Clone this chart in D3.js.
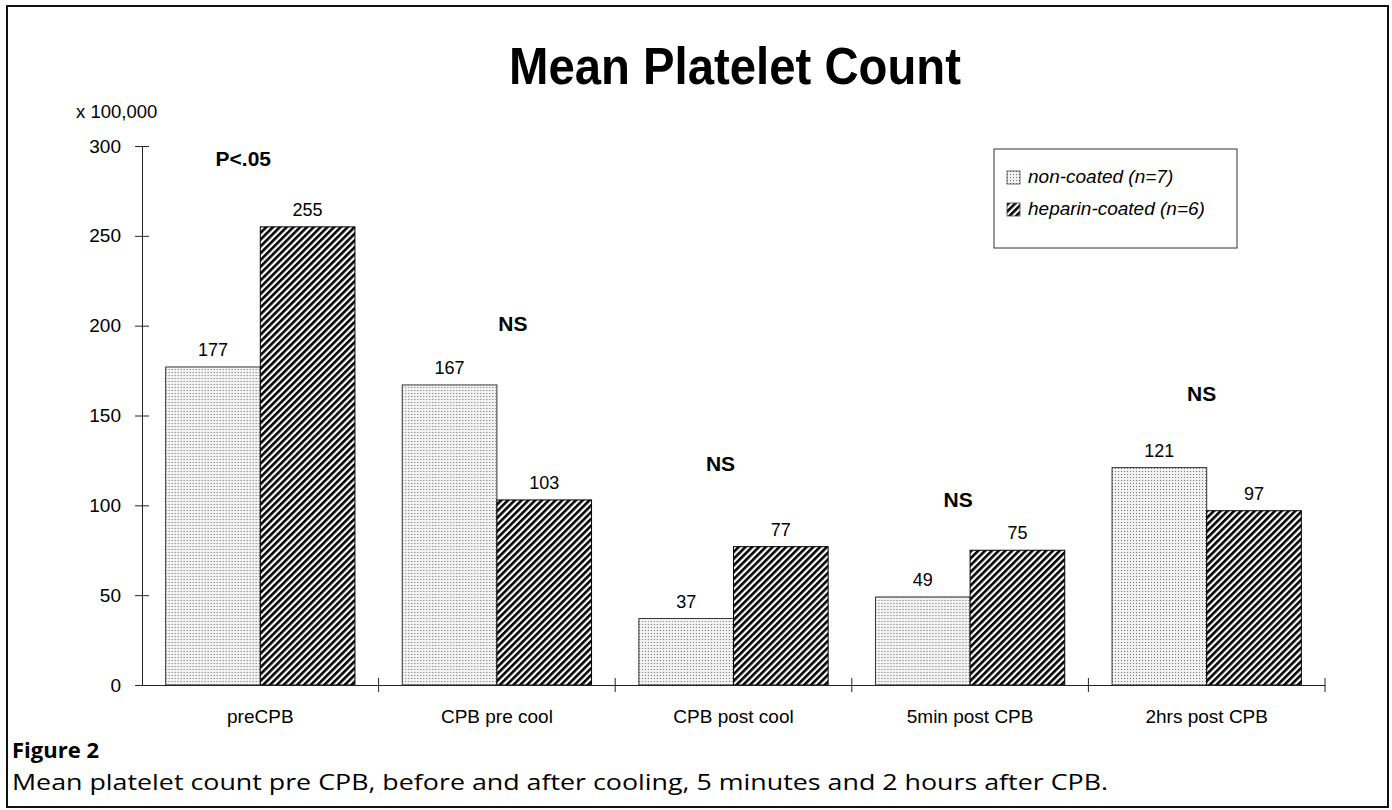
<!DOCTYPE html>
<meta charset="utf-8">
<html>
<style>
body { margin: 0; background: #fff; }
text { font-family: "Liberation Sans", Arial, sans-serif; fill: #000; }
.caption text { font-family: "Open Sans", "Noto Sans", sans-serif; }
</style>
<svg width="1392" height="810"></svg>
<script src="https://d3js.org/d3.v7.min.js"></script>
<script>
// data
var categories = ["preCPB", "CPB pre cool", "CPB post cool", "5min post CPB", "2hrs post CPB"];
var series = ["non-coated (n=7)", "heparin-coated (n=6)"];
var nonCoated = [177, 167, 37, 49, 121];
var heparinCoated = [255, 103, 77, 75, 97];
var yTicks = [0, 50, 100, 150, 200, 250, 300];
// significance notes above each group
var noteCats = ["preCPB", "CPB pre cool", "CPB post cool", "5min post CPB", "2hrs post CPB"];
var noteText = ["P<.05", "NS", "NS", "NS", "NS"];
var noteValues = [289, 197, 119, 99, 158];

var svg = d3.select("svg");

// outer frame
svg.append("rect")
    .attr("x", 7).attr("y", 6)
    .attr("width", 1381).attr("height", 801)
    .attr("fill", "none").attr("stroke", "#111").attr("stroke-width", 2);

// fill patterns
var defs = svg.append("defs");
var dots = defs.append("pattern")
    .attr("id", "dots").attr("patternUnits", "userSpaceOnUse")
    .attr("width", 3).attr("height", 3);
dots.append("rect").attr("width", 3).attr("height", 3).attr("fill", "#f2f2f2");
dots.append("rect").attr("width", 1).attr("height", 1).attr("fill", "#707070");
var hatch = defs.append("pattern")
    .attr("id", "hatch").attr("patternUnits", "userSpaceOnUse")
    .attr("width", 4.8).attr("height", 10)
    .attr("patternTransform", "rotate(45)");
hatch.append("rect").attr("width", 4.8).attr("height", 10).attr("fill", "#fff");
hatch.append("rect").attr("width", 2.6).attr("height", 10).attr("fill", "#000");
var fills = ["url(#dots)", "url(#hatch)"];

var plotLeft = 142, plotRight = 1325, plotTop = 146, plotBottom = 685;

var x = d3.scaleBand().domain(categories).range([plotLeft, plotRight])
    .paddingInner(0.2).paddingOuter(0.1);
var xs = d3.scaleBand().domain(series).range([0, x.bandwidth()]);
var y = d3.scaleLinear().domain([0, 300]).range([plotBottom, plotTop]);

// title
svg.append("text")
    .attr("x", 735).attr("y", 84)
    .attr("text-anchor", "middle")
    .attr("font-size", 52).attr("font-weight", "bold")
    .attr("textLength", 452).attr("lengthAdjust", "spacingAndGlyphs")
    .text("Mean Platelet Count");

svg.append("text")
    .attr("x", 76).attr("y", 118)
    .attr("font-size", 18.5)
    .text("x 100,000");

// y axis
var yAxis = svg.append("g")
    .attr("transform", "translate(" + plotLeft + ",0)")
    .call(d3.axisLeft(y).tickValues(yTicks).tickSize(7).tickSizeOuter(0).tickPadding(14));
yAxis.select(".domain").attr("stroke", "#222");
yAxis.selectAll(".tick line").attr("x1", 7).attr("stroke", "#222");
yAxis.selectAll(".tick text").attr("font-size", 19)
    .attr("font-family", "Liberation Sans, Arial, sans-serif");

// bars
var rows = categories.map(function(c, i) {
  return { cat: c, vals: [nonCoated[i], heparinCoated[i]] };
});
var group = svg.append("g").selectAll("g")
    .data(rows)
    .enter().append("g")
      .attr("transform", function(d) { return "translate(" + x(d.cat) + ",0)"; });

group.selectAll("rect")
    .data(function(d) { return d.vals.map(function(v, j) { return { s: series[j], v: v, j: j }; }); })
    .enter().append("rect")
      .attr("x", function(d) { return xs(d.s); })
      .attr("y", function(d) { return y(d.v); })
      .attr("width", xs.bandwidth())
      .attr("height", function(d) { return y(0) - y(d.v); })
      .attr("fill", function(d) { return fills[d.j]; })
      .attr("stroke", function(d) { return d.j ? "#000" : "#333"; })
      .attr("stroke-width", 1);

group.selectAll("text.val")
    .data(function(d) { return d.vals.map(function(v, j) { return { s: series[j], v: v }; }); })
    .enter().append("text")
      .attr("class", "val")
      .attr("x", function(d) { return xs(d.s) + xs.bandwidth() / 2; })
      .attr("y", function(d) { return y(d.v) - 11; })
      .attr("text-anchor", "middle")
      .attr("font-size", 18)
      .text(function(d) { return d.v; });

// x axis: line, boundary ticks, centred labels
var xAxis = svg.append("g")
    .attr("transform", "translate(0," + plotBottom + ")")
    .call(d3.axisBottom(x).tickSize(0).tickPadding(25).tickSizeOuter(0));
xAxis.select(".domain").attr("stroke", "#222");
xAxis.selectAll(".tick text").attr("font-size", 19)
    .attr("font-family", "Liberation Sans, Arial, sans-serif");

var bounds = categories.map(function(c) { return x(c) - x.step() * x.paddingInner() / 2; });
bounds.push(plotRight);
bounds.shift();
svg.append("g").selectAll("line")
    .data(bounds)
    .enter().append("line")
      .attr("x1", function(d) { return d; }).attr("x2", function(d) { return d; })
      .attr("y1", plotBottom - 7).attr("y2", plotBottom + 7)
      .attr("stroke", "#222");

// significance notes
var noteDx = [-17, 16, -13, -12, -5];
svg.append("g").selectAll("text")
    .data(noteText)
    .enter().append("text")
      .attr("x", function(d, i) { return x(noteCats[i]) + x.bandwidth() / 2 + noteDx[i]; })
      .attr("y", function(d, i) { return y(noteValues[i]); })
      .attr("text-anchor", "middle")
      .attr("font-size", 21).attr("font-weight", "bold")
      .text(function(d) { return d; });

// legend
var legend = svg.append("g").attr("transform", "translate(994,149)");
legend.append("rect")
    .attr("width", 243).attr("height", 99)
    .attr("fill", "#fff").attr("stroke", "#333").attr("stroke-width", 1);
var item = legend.selectAll("g.item")
    .data(series)
    .enter().append("g")
      .attr("class", "item")
      .attr("transform", function(d, i) { return "translate(13," + (22 + i * 32) + ")"; });
item.append("rect")
    .attr("width", 13).attr("height", 13)
    .attr("fill", function(d, i) { return fills[i]; })
    .attr("stroke", "#444").attr("stroke-width", 0.8);
item.append("text")
    .attr("x", 21).attr("y", 12)
    .attr("font-size", 19).attr("font-style", "italic")
    .text(function(d) { return d; });

// figure caption
var cap = svg.append("g").attr("class", "caption");
cap.append("text")
    .attr("x", 12).attr("y", 758)
    .attr("font-size", 22).attr("font-weight", "bold")
    .text("Figure 2");
cap.append("text")
    .attr("x", 12).attr("y", 790)
    .attr("font-size", 21)
    .attr("textLength", 1096).attr("lengthAdjust", "spacingAndGlyphs")
    .text("Mean platelet count pre CPB, before and after cooling, 5 minutes and 2 hours after CPB.");
</script>
</html>
